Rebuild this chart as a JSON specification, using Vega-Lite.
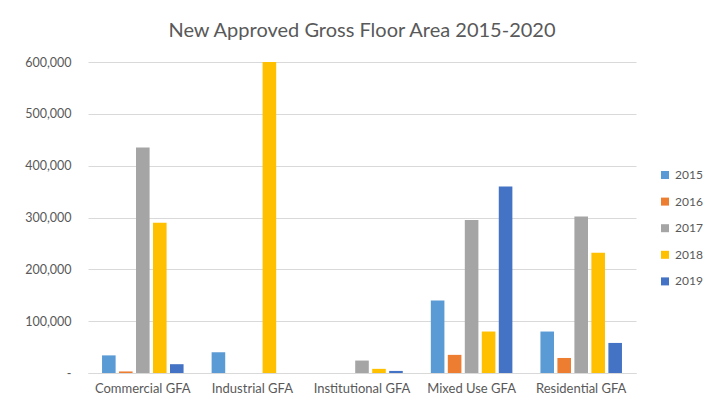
{
  "$schema": "https://vega.github.io/schema/vega-lite/v6.json",
  "autosize": "none",
  "width": 548,
  "height": 311,
  "padding": {"left": 88, "top": 62, "right": 69, "bottom": 37},
  "background": "white",
  "title": {
    "text": "New Approved Gross Floor Area 2015-2020",
    "font": "Lato",
    "fontSize": 20,
    "fontWeight": "normal",
    "color": "#595959",
    "anchor": "middle",
    "baseline": "bottom",
    "offset": -5
  },
  "data": {
    "values": [
      {"category": "Commercial GFA", "year": "2015", "value": 34000},
      {"category": "Commercial GFA", "year": "2016", "value": 3000},
      {"category": "Commercial GFA", "year": "2017", "value": 435000},
      {"category": "Commercial GFA", "year": "2018", "value": 290000},
      {"category": "Commercial GFA", "year": "2019", "value": 17000},
      {"category": "Industrial GFA", "year": "2015", "value": 40000},
      {"category": "Industrial GFA", "year": "2016", "value": 0},
      {"category": "Industrial GFA", "year": "2017", "value": 0},
      {"category": "Industrial GFA", "year": "2018", "value": 600000},
      {"category": "Industrial GFA", "year": "2019", "value": 0},
      {"category": "Institutional GFA", "year": "2015", "value": 0},
      {"category": "Institutional GFA", "year": "2016", "value": 0},
      {"category": "Institutional GFA", "year": "2017", "value": 24000},
      {"category": "Institutional GFA", "year": "2018", "value": 8000},
      {"category": "Institutional GFA", "year": "2019", "value": 4000},
      {"category": "Mixed Use GFA", "year": "2015", "value": 140000},
      {"category": "Mixed Use GFA", "year": "2016", "value": 35000},
      {"category": "Mixed Use GFA", "year": "2017", "value": 295000},
      {"category": "Mixed Use GFA", "year": "2018", "value": 80000},
      {"category": "Mixed Use GFA", "year": "2019", "value": 360000},
      {"category": "Residential GFA", "year": "2015", "value": 80000},
      {"category": "Residential GFA", "year": "2016", "value": 29000},
      {"category": "Residential GFA", "year": "2017", "value": 302000},
      {"category": "Residential GFA", "year": "2018", "value": 232000},
      {"category": "Residential GFA", "year": "2019", "value": 58000}
    ]
  },
  "mark": {"type": "bar", "clip": true},
  "encoding": {
    "x": {
      "field": "category",
      "type": "nominal",
      "sort": null,
      "scale": {"paddingInner": 0.225, "paddingOuter": 0.1125},
      "axis": {
        "title": null,
        "labelAngle": 0,
        "labelFont": "Lato",
        "labelFontSize": 13,
        "labelColor": "#595959",
        "labelPadding": 9,
        "ticks": false,
        "domainColor": "#D9D9D9",
        "domainWidth": 1,
        "grid": false
      }
    },
    "xOffset": {
      "field": "year",
      "type": "nominal",
      "scale": {"paddingInner": 0.2, "paddingOuter": 0.1}
    },
    "y": {
      "field": "value",
      "type": "quantitative",
      "scale": {"domain": [0, 600000], "nice": false},
      "axis": {
        "title": null,
        "values": [0, 100000, 200000, 300000, 400000, 500000, 600000],
        "labelExpr": "datum.value == 0 ? '-' : format(datum.value, ',')",
        "labelFont": "Lato",
        "labelFontSize": 12.5,
        "labelColor": "#595959",
        "labelPadding": 17,
        "ticks": false,
        "domain": false,
        "gridColor": "#D9D9D9",
        "gridWidth": 1
      }
    },
    "color": {
      "field": "year",
      "type": "nominal",
      "scale": {
        "domain": ["2015", "2016", "2017", "2018", "2019"],
        "range": ["#5B9BD5", "#ED7D31", "#A5A5A5", "#FFC000", "#4472C4"]
      },
      "legend": {
        "title": null,
        "orient": "none",
        "legendX": 571,
        "legendY": 107,
        "symbolType": "square",
        "symbolSize": 64,
        "symbolStrokeWidth": 0,
        "labelFont": "Lato",
        "labelFontSize": 12,
        "labelColor": "#595959",
        "labelOffset": 4,
        "rowPadding": 14.6
      }
    }
  },
  "config": {
    "view": {"stroke": null}
  }
}
